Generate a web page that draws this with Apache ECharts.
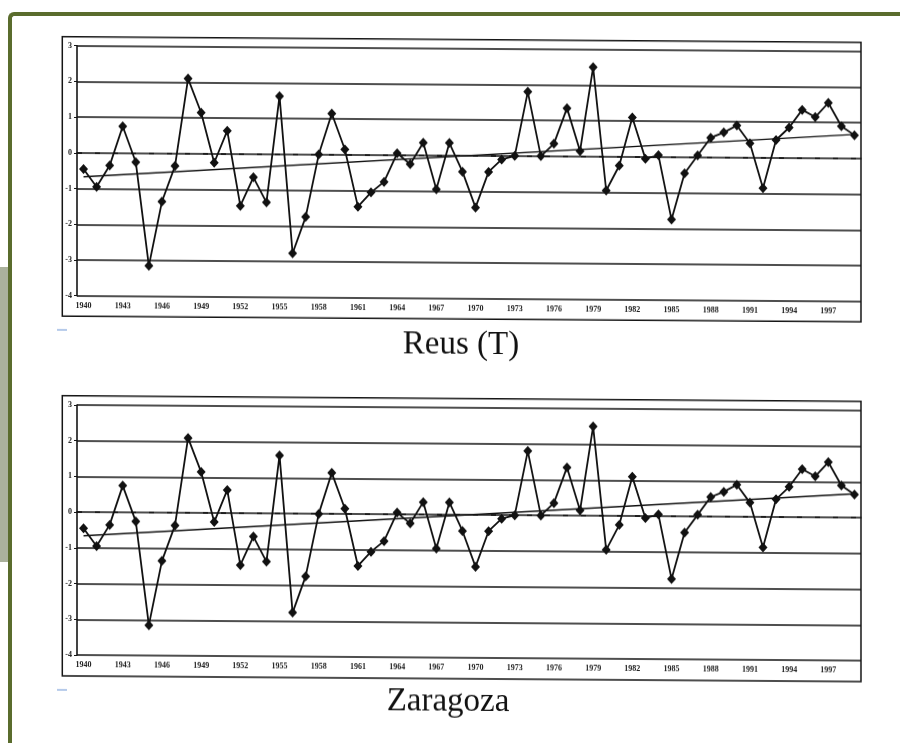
<!DOCTYPE html>
<html>
<head>
<meta charset="utf-8">
<script src="https://cdn.jsdelivr.net/npm/echarts/dist/echarts.min.js"></script>
<style>
html,body{margin:0;padding:0;background:#fff;overflow:hidden;width:900px;height:743px;}
#chart{position:absolute;left:0;top:0;width:900px;height:743px;transform:skewY(0.41deg);transform-origin:77px 0;}
#tab{position:absolute;left:0;top:267px;width:8.3px;height:295px;background:#aab19c;}
#frame{position:absolute;left:8px;top:12px;width:960px;height:800px;border-left:4.5px solid #5a6c2d;border-top:4.5px solid #5a6c2d;border-top-left-radius:6px;box-sizing:border-box;pointer-events:none;}
</style>
</head>
<body>
<div id="chart"></div>
<div id="tab"></div>
<div id="frame"></div>
<script>
// ---- data ----
const years = ['1940','1941','1942','1943','1944','1945','1946','1947','1948','1949',
               '1950','1951','1952','1953','1954','1955','1956','1957','1958','1959',
               '1960','1961','1962','1963','1964','1965','1966','1967','1968','1969',
               '1970','1971','1972','1973','1974','1975','1976','1977','1978','1979',
               '1980','1981','1982','1983','1984','1985','1986','1987','1988','1989',
               '1990','1991','1992','1993','1994','1995','1996','1997','1998','1999'];

const reusValues = [-0.45,-0.95,-0.35,0.75,-0.25,-3.15,-1.35,-0.35,2.1,1.15,
                    -0.25,0.65,-1.45,-0.65,-1.35,1.63,-2.77,-1.75,0.0,1.15,
                    0.15,-1.45,-1.05,-0.75,0.05,-0.25,0.35,-0.95,0.35,-0.45,
                    -1.45,-0.45,-0.1,0.0,1.8,0.0,0.35,1.35,0.15,2.5,
                    -0.95,-0.25,1.1,-0.05,0.05,-1.75,-0.45,0.05,0.55,0.7,
                    0.9,0.4,-0.85,0.5,0.85,1.35,1.15,1.55,0.9,0.65];

const zaragozaValues = [-0.45,-0.95,-0.35,0.75,-0.25,-3.15,-1.35,-0.35,2.1,1.15,
                        -0.25,0.65,-1.45,-0.65,-1.35,1.63,-2.77,-1.75,0.0,1.15,
                        0.15,-1.45,-1.05,-0.75,0.05,-0.25,0.35,-0.95,0.35,-0.45,
                        -1.45,-0.45,-0.1,0.0,1.8,0.0,0.35,1.35,0.15,2.5,
                        -0.95,-0.25,1.1,-0.05,0.05,-1.75,-0.45,0.05,0.55,0.7,
                        0.9,0.4,-0.85,0.5,0.85,1.35,1.15,1.55,0.9,0.65];

const reusTrend = [-0.67, 0.67];       // trend value at first and last year
const zaragozaTrend = [-0.66, 0.67];
const referenceLevel = 0;               // dashed reference line
const yRange = [-4, 3];                 // tick labels -4 ... 3, step 1
const titles = ['Reus (T)', 'Zaragoza'];

// ---- styling ----
const ink = '#151515';
const gridColors = ['#151515','#151515','#151515','#151515','rgba(0,0,0,0)','#151515','#151515','#151515'];
const smallFont = {fontSize: 8, fontWeight: 'bold', fontFamily: 'Liberation Serif', color: '#222'};

const panelTops = [45.7, 405];

function xAxisFor(i) {
  return {
    type: 'category', gridIndex: i, data: years, boundaryGap: true,
    axisTick: {show: false},
    axisLine: {show: true, lineStyle: {color: ink, width: 1.6}},
    axisLabel: Object.assign({interval: 2, margin: 6}, smallFont),
    splitLine: {show: false}
  };
}
function yAxisFor(i) {
  return {
    type: 'value', gridIndex: i, min: yRange[0], max: yRange[1], interval: 1,
    axisLine: {show: true, lineStyle: {color: ink, width: 1.6}},
    axisTick: {show: true, length: 3, lineStyle: {color: ink, width: 1}},
    axisLabel: Object.assign({margin: 5}, smallFont),
    splitLine: {show: true, lineStyle: {color: gridColors, width: 1.6}}
  };
}
function seriesFor(i, values, trend) {
  return {
    type: 'line', xAxisIndex: i, yAxisIndex: i, data: values,
    symbol: 'diamond', symbolSize: [9, 10], showSymbol: true, showAllSymbol: true,
    lineStyle: {color: '#111', width: 1.8},
    itemStyle: {color: '#111'},
    emphasis: {disabled: true},
    z: 4,
    markLine: {
      silent: true, symbol: ['none', 'none'], animation: false,
      label: {show: false},
      lineStyle: {color: '#111', width: 1.4, type: 'solid'},
      emphasis: {disabled: true},
      data: [
        {yAxis: referenceLevel, lineStyle: {type: [5, 13], width: 1.7, color: '#111'}},
        [{coord: [years[0], trend[0]]}, {coord: [years[years.length - 1], trend[1]]}]
      ]
    }
  };
}

const chart = echarts.init(document.getElementById('chart'), null, {renderer: 'canvas'});
chart.setOption({
  animation: false,
  backgroundColor: 'transparent',
  grid: panelTops.map(t => ({left: 77, top: t, width: 784, height: 250})),
  xAxis: [xAxisFor(0), xAxisFor(1)],
  yAxis: [yAxisFor(0), yAxisFor(1)],
  series: [seriesFor(0, reusValues, reusTrend), seriesFor(1, zaragozaValues, zaragozaTrend)],
  graphic: [
    {type: 'rect', silent: true, shape: {x: 62.3, y: 36.7, width: 798.7, height: 279.6}, style: {fill: 'none', stroke: ink, lineWidth: 1.5}},
    {type: 'rect', silent: true, shape: {x: 62.3, y: 395.8, width: 798.7, height: 280.2}, style: {fill: 'none', stroke: ink, lineWidth: 1.5}},
    {type: 'line', silent: true, shape: {x1: 57, y1: 330, x2: 67, y2: 330}, style: {stroke: '#9db9e3', lineWidth: 1.5}},
    {type: 'line', silent: true, shape: {x1: 57, y1: 690, x2: 67, y2: 690}, style: {stroke: '#9db9e3', lineWidth: 1.5}},
    {type: 'text', silent: true, x: 461, y: 342.8, style: {text: titles[0], font: '33px "Liberation Serif"', fill: '#111', align: 'center', verticalAlign: 'middle'}},
    {type: 'text', silent: true, x: 448, y: 699.4, style: {text: titles[1], font: '33px "Liberation Serif"', fill: '#111', align: 'center', verticalAlign: 'middle'}}
  ]
});
</script>
</body>
</html>
